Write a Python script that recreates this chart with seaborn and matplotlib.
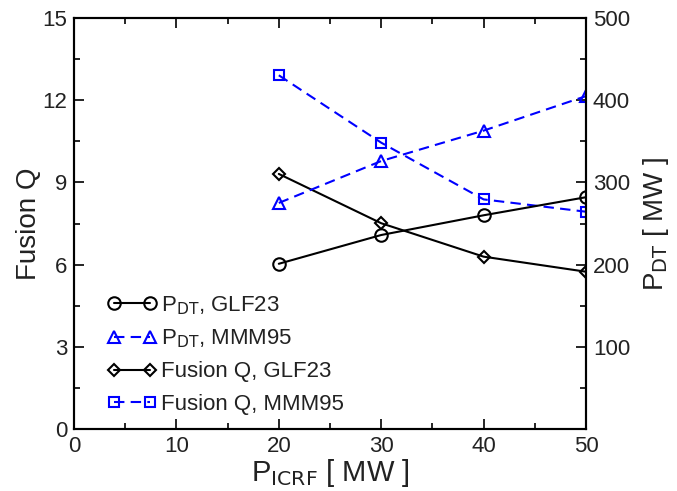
import matplotlib
matplotlib.use("Agg")
import matplotlib.pyplot as plt
import seaborn as sns
import pandas as pd
from matplotlib.ticker import MultipleLocator, FixedLocator

# ---- data ----
p_icrf = [20, 30, 40, 50]
pdt_glf23 = [201, 236, 260, 282]
pdt_mmm95 = [275, 326, 363, 405]
q_glf23 = [9.31, 7.51, 6.29, 5.74]
q_mmm95 = [12.91, 10.45, 8.38, 7.93]

labels = [r"P$_{\mathrm{DT}}$, GLF23", r"P$_{\mathrm{DT}}$, MMM95",
          "Fusion Q, GLF23", "Fusion Q, MMM95"]

sns.set_style("ticks")
plt.rcParams["font.family"] = ["Liberation Sans", "DejaVu Sans"]
plt.rcParams["mathtext.default"] = "regular"
plt.rcParams["text.color"] = "#222222"
plt.rcParams["axes.labelcolor"] = "#222222"
plt.rcParams["xtick.color"] = "black"
plt.rcParams["ytick.color"] = "black"
plt.rcParams["xtick.labelcolor"] = "#222222"
plt.rcParams["ytick.labelcolor"] = "#222222"

fig = plt.figure(figsize=(6.77, 4.91), dpi=100)
ax = fig.add_axes([0.1093, 0.1263, 0.7563, 0.837])
ax2 = ax.twinx()

blue = "#0000FF"
df = pd.DataFrame({"x": p_icrf, "pg": pdt_glf23, "pm": pdt_mmm95,
                   "qg": q_glf23, "qm": q_mmm95})

sns.lineplot(data=df, x="x", y="qg", ax=ax, color="black", lw=1.5,
             marker="D", ms=6, mfc="none", mec="black", mew=1.5)
sns.lineplot(data=df, x="x", y="qm", ax=ax, color=blue, lw=1.5,
             dashes=False, linestyle=(0, (5, 3)),
             marker="s", ms=7, mfc="none", mec=blue, mew=1.5)
sns.lineplot(data=df, x="x", y="pg", ax=ax2, color="black", lw=1.5,
             marker="o", ms=9, mfc="none", mec="black", mew=1.5)
sns.lineplot(data=df, x="x", y="pm", ax=ax2, color=blue, lw=1.5,
             dashes=False, linestyle=(0, (5, 3)),
             marker="^", ms=8, mfc="none", mec=blue, mew=1.5)

ax.set_xlim(0, 50)
ax.set_ylim(0, 15)
ax2.set_ylim(0, 500)

ax.xaxis.set_major_locator(MultipleLocator(10))
ax.xaxis.set_minor_locator(MultipleLocator(5))
ax.yaxis.set_major_locator(MultipleLocator(3))
ax.yaxis.set_minor_locator(MultipleLocator(1.5))
ax2.yaxis.set_major_locator(FixedLocator([100, 200, 300, 400, 500]))
ax2.yaxis.set_minor_locator(FixedLocator([50, 150, 250, 350, 450]))

for a in (ax, ax2):
    for s in a.spines.values():
        s.set_linewidth(1.5)
        s.set_color("black")
        s.set_visible(True)

ax.tick_params(axis="both", which="both", direction="in", top=True,
               right=False, labelsize=16, width=1.2, pad=5)
ax.tick_params(which="major", length=7)
ax.tick_params(which="minor", length=4)
ax2.tick_params(axis="y", which="both", direction="in", right=True,
                left=False, labelsize=16, width=1.2, pad=5)
ax2.tick_params(which="major", length=7)
ax2.tick_params(which="minor", length=4)

ax.set_xlabel(r"P$_{\mathrm{ICRF}}$ [ MW ]", fontsize=21, labelpad=0)
ax.set_ylabel("Fusion Q", fontsize=20, labelpad=0)
ax2.set_ylabel(r"P$_{\mathrm{DT}}$ [ MW ]", fontsize=20, labelpad=8)

h_q = ax.get_lines()
h_p = ax2.get_lines()
handles = [h_p[0], h_p[1], h_q[0], h_q[1]]
leg = ax2.legend(handles, labels, loc="upper left",
                 bbox_to_anchor=(0.048, 0.35), frameon=False, fontsize=16,
                 numpoints=2, handlelength=2.2, handletextpad=0.2,
                 labelspacing=0.5, borderaxespad=0)

fig.savefig("out.png", dpi=100)
